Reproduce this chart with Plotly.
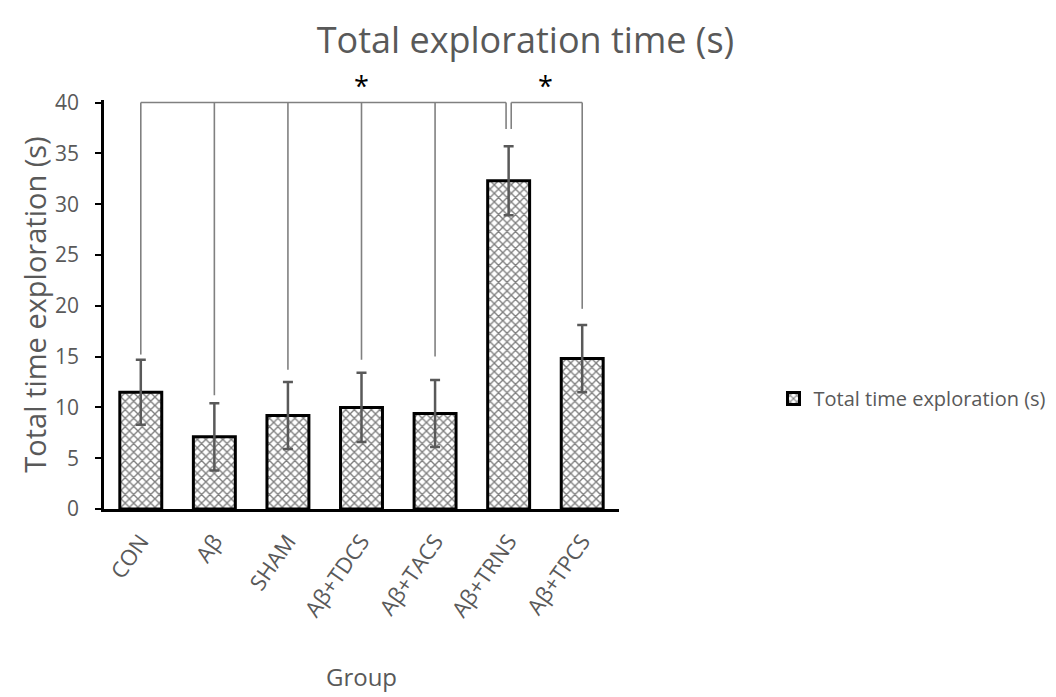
import plotly.graph_objects as go

groups = ["CON", "Aβ", "SHAM", "Aβ+TDCS", "Aβ+TACS", "Aβ+TRNS", "Aβ+TPCS"]
means = [11.5, 7.1, 9.2, 10.0, 9.4, 32.3, 14.8]
errors = [3.2, 3.3, 3.3, 3.4, 3.3, 3.4, 3.3]

# significance brackets: group indices, bottom of each leg, bracket height
bracket1_idx = [0, 1, 2, 3, 4, 5]
bracket1_legs = [15.2, 11.2, 13.7, 14.7, 15.0, 37.4]
bracket2_idx = [5, 6]
bracket2_legs = [37.4, 19.7]
bracket_level = 40
stars = ["*", "*"]
star_x = [3, 5.5]

y_ticks = [0, 5, 10, 15, 20, 25, 30, 35, 40]

GRAY = "#595959"
LINE = "#808080"
FONT = "Open Sans"

fig = go.Figure()
xs = list(range(len(groups)))
fig.add_trace(go.Bar(
    x=xs, y=means, width=0.57,
    name="Total time exploration (s)",
    marker=dict(color="white", line=dict(color="black", width=3),
                pattern=dict(shape="x", size=6, solidity=0.4, fgcolor="black", bgcolor="white")),
    error_y=dict(type="data", array=errors, visible=True, color=GRAY, thickness=2.5, width=5),
    showlegend=True,
))

gap = 0.035
def bracket(idx, legs, left_gap, right_gap):
    px, py = [], []
    x0 = idx[0] + (gap if left_gap else 0)
    x1 = idx[-1] - (gap if right_gap else 0)
    px += [x0, x1, None]
    py += [bracket_level, bracket_level, None]
    for k, (i, b) in enumerate(zip(idx, legs)):
        xx = i
        if k == 0 and left_gap:
            xx = i + gap
        if k == len(idx) - 1 and right_gap:
            xx = i - gap
        px += [xx, xx, None]
        py += [bracket_level, b, None]
    fig.add_trace(go.Scatter(x=px, y=py, mode="lines", line=dict(color=LINE, width=1.6),
                             showlegend=False, hoverinfo="skip"))

bracket(bracket1_idx, bracket1_legs, False, True)
bracket(bracket2_idx, bracket2_legs, True, False)

for s, sx in zip(stars, star_x):
    fig.add_annotation(x=sx, y=bracket_level, text=s, showarrow=False,
                       yanchor="bottom", yshift=-3,
                       font=dict(family=FONT, size=27, color="black"))

fig.update_layout(
    width=1056, height=697,
    paper_bgcolor="white", plot_bgcolor="white",
    margin=dict(l=96, r=443, t=92, b=196),
    title=dict(text="Total exploration time (s)", x=0.49, xanchor="center", y=0.954, yanchor="middle",
               font=dict(family=FONT, size=36, color=GRAY)),
    font=dict(family=FONT, color=GRAY),
    legend=dict(x=1.30, y=0.27, xanchor="left", yanchor="middle",
                font=dict(family=FONT, size=20, color=GRAY), itemwidth=30,
                bgcolor="rgba(0,0,0,0)"),
)
fig.update_xaxes(
    tickmode="array", tickvals=xs, ticktext=groups, tickangle=-55,
    range=[-0.5, 6.5], showline=True, linecolor="black", linewidth=2.5,
    ticks="", showgrid=False, zeroline=False,
    tickfont=dict(family=FONT, size=22, color=GRAY), ticklabelstandoff=8,
    title=dict(text="Group", font=dict(family=FONT, size=24, color=GRAY), standoff=48),
)
fig.update_yaxes(
    range=[0, 40.25], tickmode="array", tickvals=y_ticks,
    showline=True, linecolor="black", linewidth=2.5, ticks="outside", ticklen=6,
    tickcolor="black", tickwidth=2, showgrid=False, zeroline=False,
    tickfont=dict(family=FONT, size=21, color=GRAY), ticklabelstandoff=12,
    title=dict(text="Total time exploration (s)", font=dict(family=FONT, size=29, color=GRAY), standoff=0),
)

fig.write_html("out.html")
